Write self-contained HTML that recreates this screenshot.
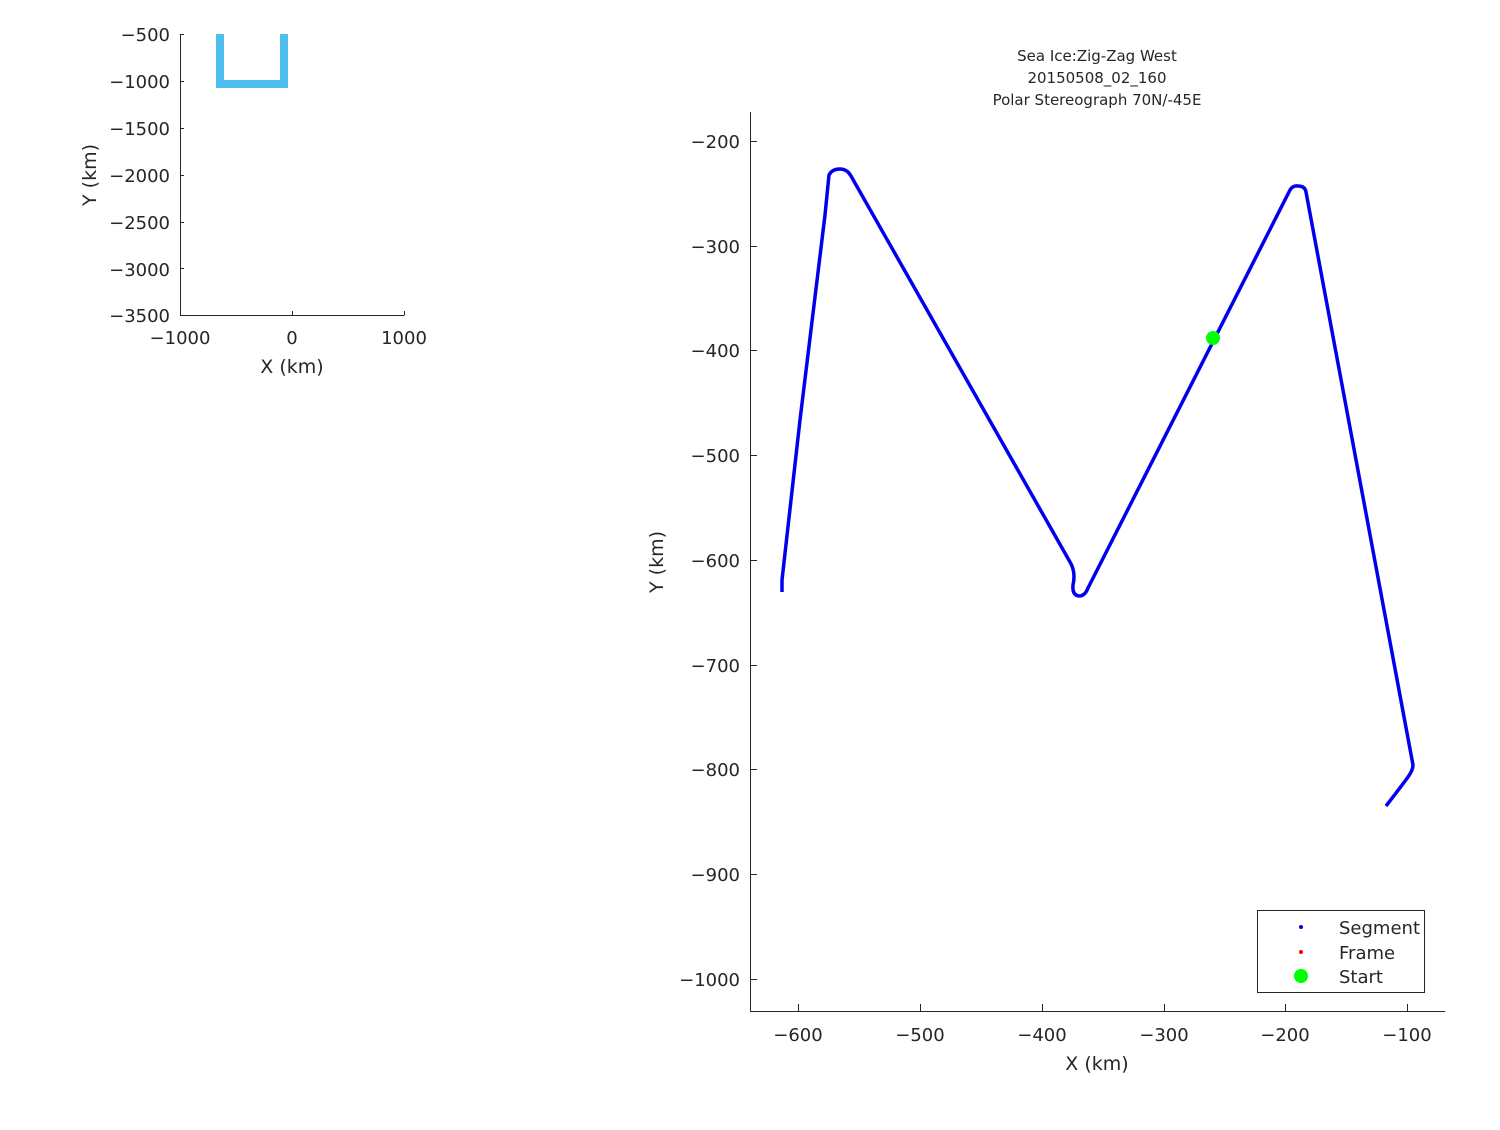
<!DOCTYPE html>
<html><head><style>body{margin:0;background:#fff}</style></head><body>
<svg width="1500" height="1125" xmlns="http://www.w3.org/2000/svg" font-family="DejaVu Sans, Liberation Sans, sans-serif" fill="#262626">
<rect width="1500" height="1125" fill="#fff"/>
<g stroke="#262626" stroke-width="1" fill="none">
<path d="M180.5 34V315.5H404.5"/>
<path d="M292.5 315v-4M404.5 315v-4M180 34.5h4M180 81.5h4M180 128.5h4M180 175.5h4M180 222.5h4M180 268.5h4"/>
</g>
<path d="M220 34V84H284V34" stroke="#4DBEEE" stroke-width="8" fill="none"/>
<g font-size="18" text-anchor="end">
<text x="170" y="41">−500</text><text x="170" y="88">−1000</text><text x="170" y="135">−1500</text><text x="170" y="182">−2000</text><text x="170" y="229">−2500</text><text x="170" y="276">−3000</text><text x="170" y="322">−3500</text>
</g>
<g font-size="18" text-anchor="middle">
<text x="180" y="344">−1000</text><text x="292" y="344">0</text><text x="404" y="344">1000</text>
<text x="292" y="373" font-size="19">X (km)</text>
</g>
<text transform="translate(96,175) rotate(-90)" font-size="19" text-anchor="middle">Y (km)</text>
<g stroke="#262626" stroke-width="1" fill="none">
<path d="M750.5 112V1011.5H1445"/>
<path d="M798.5 1011v-7M920.5 1011v-7M1042.5 1011v-7M1164.5 1011v-7M1285.5 1011v-7M1407.5 1011v-7"/>
<path d="M750 141.5h7M750 246.5h7M750 350.5h7M750 455.5h7M750 560.5h7M750 665.5h7M750 769.5h7M750 874.5h7M750 979.5h7"/>
</g>
<g font-size="18" text-anchor="end">
<text x="740" y="148">−200</text><text x="740" y="253">−300</text><text x="740" y="357">−400</text><text x="740" y="462">−500</text><text x="740" y="567">−600</text><text x="740" y="672">−700</text><text x="740" y="776">−800</text><text x="740" y="881">−900</text><text x="740" y="986">−1000</text>
</g>
<g font-size="18" text-anchor="middle">
<text x="798" y="1041">−600</text><text x="920" y="1041">−500</text><text x="1042" y="1041">−400</text><text x="1164" y="1041">−300</text><text x="1285" y="1041">−200</text><text x="1407" y="1041">−100</text>
<text x="1097" y="1070" font-size="19">X (km)</text>
</g>
<text transform="translate(663,562) rotate(-90)" font-size="19" text-anchor="middle">Y (km)</text>
<g font-size="15" text-anchor="middle">
<text x="1097" y="61">Sea Ice:Zig-Zag West</text>
<text x="1097" y="83">20150508_02_160</text>
<text x="1097" y="105">Polar Stereograph 70N/-45E</text>
</g>
<path d="M782 592L782 580L800 420L825 215L829 175Q832 169 840 169Q847 169 851 176L1070 562Q1076 572 1073 585Q1072 595 1079 596Q1085 596 1088 588L1290 190Q1293 185 1298 186Q1305 186 1306 192L1413 765Q1413 770 1408 777Q1400 788 1386 806" stroke="#0000EE" stroke-width="3.5" fill="none" stroke-linejoin="round"/>
<circle cx="1213" cy="338" r="7" fill="#00FF00"/>
<rect x="1257.5" y="910.5" width="167" height="82" fill="#fff" stroke="#262626"/>
<circle cx="1301" cy="927" r="2" fill="#0000CC"/>
<circle cx="1301" cy="952" r="2" fill="#EE0000"/>
<circle cx="1301" cy="976" r="7" fill="#00FF00"/>
<g font-size="18"><text x="1339" y="934">Segment</text><text x="1339" y="959">Frame</text><text x="1339" y="983">Start</text></g>
</svg>
</body></html>
